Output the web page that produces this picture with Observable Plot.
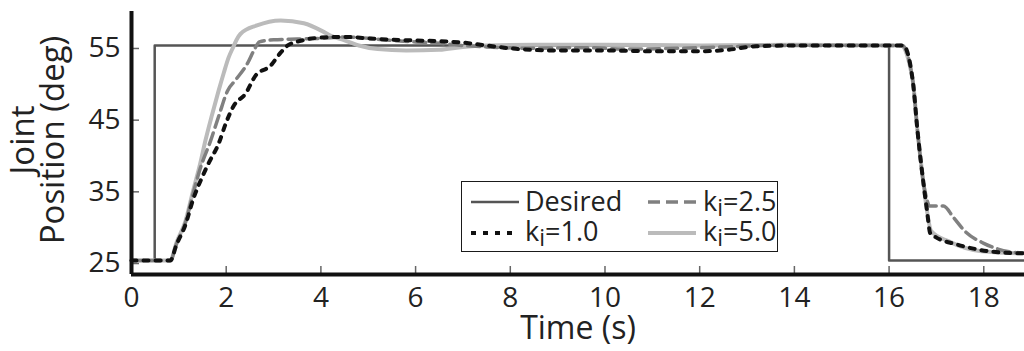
<!DOCTYPE html>
<html><head><meta charset="utf-8">
<script src="https://cdn.jsdelivr.net/npm/d3@7"></script>
<script src="https://cdn.jsdelivr.net/npm/@observablehq/plot@0.6"></script>
<style>
body{margin:0;background:#fff;}
#wrap{position:relative;width:1024px;height:351px;overflow:hidden;background:#fff;}
#legend{position:absolute;left:461px;top:181px;width:317px;height:71px;border:1.5px solid #1a1a1a;background:#fff;box-sizing:border-box;}
#legend svg{position:absolute;left:0;top:0;overflow:visible;}
</style></head><body><div id="wrap"></div>
<script>
// ---- data ----
const xTicks = [0, 2, 4, 6, 8, 10, 12, 14, 16, 18];
const yTicks = [25, 35, 45, 55];

const tDesired = [0, 0.49, 0.49, 16.0, 16.0, 18.86];
const vDesired = [25, 25, 55, 55, 25, 25];

const tK1 = [0, 0.82, 0.95, 1.14, 1.3, 1.45, 1.63, 1.84, 1.99, 2.16, 2.41, 2.62, 2.94, 3.15, 3.3, 3.6, 4.0, 4.5, 5.0, 5.5, 6.0, 6.5, 7.0, 7.5, 8.0, 9.0, 10.0, 11.0, 12.0, 12.6, 13.2, 14.0, 15.0, 16.3, 16.5, 16.6, 16.72, 16.8, 16.87, 17.0, 17.4, 17.9, 18.4, 18.86];
const vK1 = [25, 25, 27.2, 30.0, 33.5, 36.0, 38.6, 41.3, 44.1, 46.6, 48.3, 50.8, 52.2, 54.0, 55.0, 55.7, 56.1, 56.2, 56.0, 55.8, 55.7, 55.6, 55.4, 55.0, 54.6, 54.3, 54.3, 54.2, 54.2, 54.4, 54.9, 55.0, 55.0, 55.0, 50.1, 43.1, 36.1, 32.0, 28.8, 28.2, 27.3, 26.5, 26.1, 26.0];

const tK25 = [0, 0.82, 0.95, 1.14, 1.3, 1.45, 1.67, 1.85, 2.03, 2.2, 2.45, 2.6, 2.7, 3.0, 3.5, 4.0, 4.5, 5.0, 5.5, 6.0, 6.5, 7.0, 7.5, 8.5, 9.5, 10.5, 11.5, 12.5, 13.5, 15.0, 16.28, 16.5, 16.6, 16.72, 16.8, 16.85, 17.15, 17.36, 17.6, 18.0, 18.3, 18.86];
const vK25 = [25, 25, 27.3, 30.3, 34.3, 37.8, 41.7, 45.3, 48.7, 50.2, 52.5, 54.5, 55.5, 55.8, 55.9, 56.0, 56.2, 56.0, 55.7, 55.5, 55.3, 55.0, 54.8, 54.6, 54.7, 54.5, 54.6, 54.8, 55.0, 55.0, 55.0, 50.1, 43.1, 36.1, 33.5, 32.6, 32.6, 31.0, 29.1, 27.4, 26.6, 26.0];

const tK5 = [0, 0.82, 0.95, 1.14, 1.3, 1.45, 1.56, 1.7, 1.84, 1.95, 2.05, 2.15, 2.22, 2.3, 2.65, 3.15, 3.64, 4.06, 4.2, 4.5, 4.8, 5.2, 5.8, 6.5, 7.0, 7.5, 8.5, 10.0, 12.0, 14.0, 16.25, 16.5, 16.6, 16.72, 16.78, 16.89, 17.25, 17.95, 18.86];
const vK5 = [25, 25, 27.5, 30.5, 34.7, 38.5, 41.7, 45.3, 48.7, 51.2, 53.3, 54.8, 55.8, 56.6, 57.8, 58.5, 58.1, 56.9, 56.4, 55.7, 55.0, 54.5, 54.3, 54.4, 54.8, 55.0, 55.1, 55.1, 55.0, 55.1, 55.0, 50.1, 43.1, 36.1, 32.9, 29.1, 27.7, 26.3, 26.0];

const seriesNames = ["Desired", "kj=1.0", "kj=2.5", "kj=5.0"];
const seriesT = [tDesired, tK1, tK25, tK5];
const seriesV = [vDesired, vK1, vK25, vK5];

// ---- styles ----
const styles = {
  "Desired": {stroke: "#555", strokeWidth: 2.5, dash: null},
  "kj=1.0": {stroke: "#111", strokeWidth: 4, dash: "5,7"},
  "kj=2.5": {stroke: "#808080", strokeWidth: 3.5, dash: "12,6"},
  "kj=5.0": {stroke: "#bbbbbb", strokeWidth: 4, dash: null}
};
const drawOrder = ["Desired", "kj=5.0", "kj=2.5", "kj=1.0"];

const rows = name => {
  const i = seriesNames.indexOf(name);
  return seriesT[i].map((t, j) => ({t, v: seriesV[i][j]}));
};

const lineMarks = drawOrder.map(name => Plot.line(rows(name), {
  x: "t", y: "v", stroke: styles[name].stroke, strokeWidth: styles[name].strokeWidth,
  strokeDasharray: styles[name].dash, strokeLinejoin: "round", curve: "monotone-x"
}));

const chart = Plot.plot({
  width: 1024, height: 351,
  marginLeft: 131, marginRight: 0, marginTop: 11, marginBottom: 77,
  style: {fontFamily: "'Open Sans', sans-serif", fontSize: "28px", color: "#222", background: "#fff"},
  x: {domain: [0, 18.86]},
  y: {domain: [23.05, 59.74]},
  marks: [
    ...lineMarks,
    Plot.axisX(xTicks, {tickSize: -8, tickPadding: 21, label: null, stroke: "#666", strokeWidth: 1.5, tickFormat: d => String(d)}),
    Plot.axisY(yTicks, {tickSize: -8, tickPadding: 19, label: null, stroke: "#666", strokeWidth: 1.5, dy: 3, tickFormat: d => String(d)}),
    Plot.ruleY([23.05], {stroke: "#111", strokeWidth: 4}),
    Plot.ruleX([0], {stroke: "#111", strokeWidth: 4}),
    Plot.text(["Time (s)"], {frameAnchor: "bottom", dy: 54, lineAnchor: "middle", textAnchor: "middle", fontSize: 32, fill: "#222"}),
    Plot.text(["Joint\nPosition (deg)"], {frameAnchor: "left", dx: -92, dy: -3, rotate: -90, lineAnchor: "middle", textAnchor: "middle", fontSize: 33, lineHeight: 0.92, fill: "#222"})
  ]
});
const wrap = document.getElementById("wrap");
wrap.appendChild(chart);

// ---- legend ----
const legend = document.createElement("div");
legend.id = "legend";
wrap.appendChild(legend);
const lsvg = d3.select(legend).append("svg").attr("width", 317).attr("height", 71)
  .style("font-family", "'Open Sans', sans-serif").style("font-size", "27px");
const legendItems = [
  {name: "Desired", x: 9, y: 20, tx: 63, ty: 29},
  {name: "kj=2.5", x: 186, y: 20, tx: 241, ty: 29},
  {name: "kj=1.0", x: 9, y: 51, tx: 63, ty: 59},
  {name: "kj=5.0", x: 186, y: 51, tx: 241, ty: 59}
];
legendItems.forEach(it => {
  const s = styles[it.name];
  lsvg.append("line").attr("x1", it.x).attr("x2", it.x + 48).attr("y1", it.y).attr("y2", it.y)
    .attr("stroke", s.stroke).attr("stroke-width", s.strokeWidth).attr("stroke-dasharray", s.dash);
  const t = lsvg.append("text").attr("x", it.tx).attr("y", it.ty).attr("fill", "#222");
  if (it.name === "Desired") t.text("Desired");
  else {
    t.append("tspan").text("k");
    t.append("tspan").attr("font-size", "23px").attr("dy", 5).text("i");
    t.append("tspan").attr("dy", -5).text(it.name.slice(2));
  }
});
</script></body></html>
